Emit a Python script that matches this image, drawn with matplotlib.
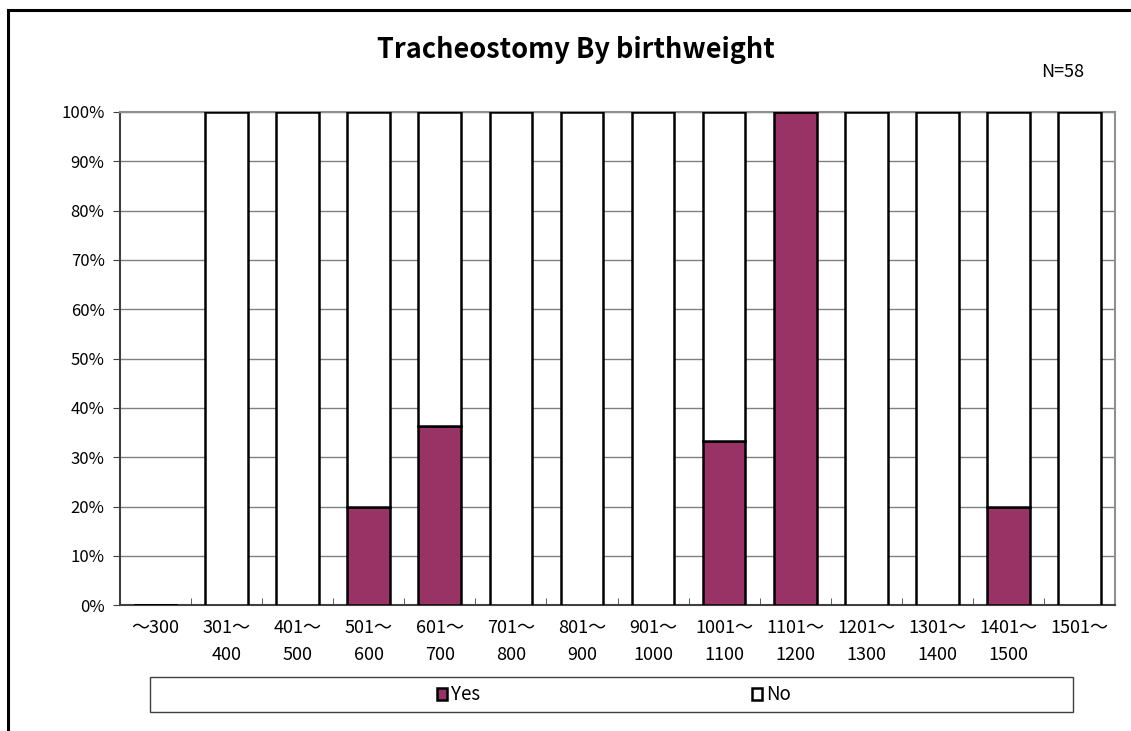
import matplotlib.pyplot as plt
from matplotlib.lines import Line2D
from matplotlib.patches import Rectangle
from matplotlib.ticker import MultipleLocator, PercentFormatter
import numpy as np

plt.rcParams['font.family'] = ['Noto Sans CJK JP', 'DejaVu Sans']

# データ
categories = ['～300', '301～\n400', '401～\n500', '501～\n600', '601～\n700',
              '701～\n800', '801～\n900', '901～\n1000', '1001～\n1100', '1101～\n1200',
              '1201～\n1300', '1301～\n1400', '1401～\n1500', '1501～']
yes_pct = [0, 0, 0, 20, 36.4, 0, 0, 0, 33.3, 100, 0, 0, 20, 0]
no_pct = [0, 100, 100, 80, 63.6, 100, 100, 100, 66.7, 0, 100, 100, 80, 100]

W, H = 1131, 731
fig = plt.figure(figsize=(W / 100, H / 100), dpi=100)
ax = fig.add_axes([0.106, 0.172, 0.880, 0.675])

x = np.arange(len(categories))
w = 0.6
ax.bar(x, yes_pct, w, color='#993366', edgecolor='black', linewidth=1.8, label='Yes', zorder=3)
ax.bar(x, no_pct, w, bottom=yes_pct, color='white', edgecolor='black', linewidth=1.8, label='No', zorder=3)

ax.set_xlim(-0.5, len(categories) - 0.5)
ax.set_ylim(0, 100)
ax.yaxis.set_major_locator(MultipleLocator(10))
ax.yaxis.set_major_formatter(PercentFormatter(decimals=0))
ax.grid(axis='y', color='#808080', linewidth=1, zorder=0)

ax.set_xticks(x)
ax.set_xticklabels(categories, fontsize=13, linespacing=1.6)
ax.tick_params(axis='x', length=0, pad=10)
ax.set_xticks(np.arange(len(categories) + 1) - 0.5, minor=True)
ax.tick_params(axis='x', which='minor', direction='in', length=5, color='#404040')
ax.tick_params(axis='y', labelsize=12, length=5, color='#404040', pad=6)

for s in ['top', 'right']:
    ax.spines[s].set_color('#909090')
    ax.spines[s].set_linewidth(1.5)
for s in ['left', 'bottom']:
    ax.spines[s].set_color('#404040')
    ax.spines[s].set_linewidth(1.5)

fig.text(576 / W, 1 - 50 / H, 'Tracheostomy By birthweight', ha='center', va='center',
         fontsize=19.5, fontweight='bold')
fig.text(1063 / W, 1 - 72 / H, 'N=58', ha='center', va='center', fontsize=13)

# 凡例
fig.add_artist(Rectangle((150 / W, 1 - 712 / H), 923 / W, 35 / H, transform=fig.transFigure,
                         facecolor='white', edgecolor='#404040', linewidth=1))
leg = fig.legend(loc='center', bbox_to_anchor=(614 / W, 1 - 695 / H), ncol=2,
                 frameon=False, fontsize=13.5, handlelength=0.55, handleheight=0.55,
                 handletextpad=0.2, columnspacing=14.5)

# 外枠
fig.add_artist(Line2D([8 / W, 1], [1 - 10 / H, 1 - 10 / H], color='black', linewidth=2.2))
fig.add_artist(Line2D([8 / W, 8 / W], [0, 1 - 10 / H], color='black', linewidth=2.2))

fig.savefig('out.png', dpi=100)
